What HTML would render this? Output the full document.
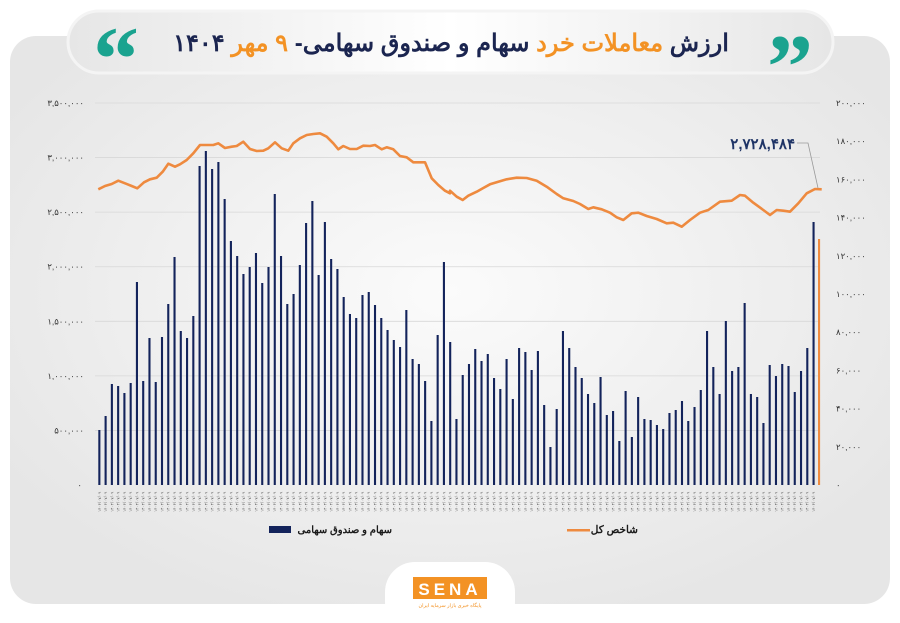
<!DOCTYPE html>
<html><head><meta charset="utf-8"><style>
html,body{margin:0;padding:0;background:#fff;}
body{width:900px;height:623px;overflow:hidden;font-family:"Liberation Sans","Noto Sans CJK SC",sans-serif;}
</style></head><body>
<svg id="s" width="900" height="623" xmlns="http://www.w3.org/2000/svg" style="position:absolute;left:0;top:0">
<defs>
<radialGradient id="bg" cx="50%" cy="45%" r="60%"><stop offset="0" stop-color="#fbfbfb"/><stop offset="1" stop-color="#e6e6e6"/></radialGradient>
<linearGradient id="tg" x1="0" x2="1"><stop offset="0" stop-color="#e6e6e6"/><stop offset=".5" stop-color="#ffffff"/><stop offset="1" stop-color="#e6e6e6"/></linearGradient>
</defs>
<rect x="10" y="36" width="880" height="568" rx="26" fill="url(#bg)"/>
<rect x="68" y="11" width="765" height="62" rx="31" fill="url(#tg)" stroke="#f4f4f4" stroke-width="3"/>
<text x="116" y="90" font-size="92" font-weight="bold" fill="#1aa38f" text-anchor="middle" font-family="Liberation Serif,serif">“</text>
<text x="790" y="98" font-size="92" font-weight="bold" fill="#1aa38f" text-anchor="middle" font-family="Liberation Serif,serif">”</text>
<text x="451" y="51" font-size="24" font-weight="bold" text-anchor="middle" direction="rtl" fill="#1b2550">ارزش <tspan fill="#f39224">معاملات خرد</tspan> سهام و صندوق سهامی- <tspan fill="#f39224">۹ مهر</tspan> ۱۴۰۴</text>
<g id="grid"></g>
<g id="bars"></g>
<g id="line"></g>
<text x="795" y="149" font-size="15" font-weight="bold" fill="#1f3466" text-anchor="end">۲,۷۲۸,۴۸۴</text>
<polyline points="797,143 808,143 818,188" fill="none" stroke="#999" stroke-width="0.8"/>
<rect x="269" y="526" width="22" height="7" fill="#13235b"/>
<text x="392" y="533" font-size="10" font-weight="bold" fill="#1b1b1b" text-anchor="start" direction="rtl">سهام و صندوق سهامی</text>
<rect x="567" y="529" width="23" height="2.5" fill="#ee8a3f"/>
<text x="638" y="533" font-size="10.5" font-weight="bold" fill="#1b1b1b" text-anchor="start" direction="rtl">شاخص کل</text>
<rect x="385" y="562" width="130" height="70" rx="30" fill="#fff"/>
<rect x="413" y="577" width="74" height="22" fill="#f39224"/>
<text x="450" y="595" font-size="17" font-weight="bold" fill="#fff" text-anchor="middle" letter-spacing="4">SENA</text>
<text x="450" y="607" font-size="5" fill="#f39224" text-anchor="middle">پایگاه خبری بازار سرمایه ایران</text>
</svg>
<script>
var NS="http://www.w3.org/2000/svg";
function el(p,t,a,txt){var e=document.createElementNS(NS,t);for(var k in a)e.setAttribute(k,a[k]);if(txt!=null)e.textContent=txt;p.appendChild(e);return e;}
var g=document.getElementById("grid");
var L=["۰","۵۰۰,۰۰۰","۱,۰۰۰,۰۰۰","۱,۵۰۰,۰۰۰","۲,۰۰۰,۰۰۰","۲,۵۰۰,۰۰۰","۳,۰۰۰,۰۰۰","۳,۵۰۰,۰۰۰"];
var R=["۰","۲۰,۰۰۰","۴۰,۰۰۰","۶۰,۰۰۰","۸۰,۰۰۰","۱۰۰,۰۰۰","۱۲۰,۰۰۰","۱۴۰,۰۰۰","۱۶۰,۰۰۰","۱۸۰,۰۰۰","۲۰۰,۰۰۰"];
for(var i=0;i<8;i++){var y=485-i*54.57;if(i>0)el(g,"line",{x1:95,x2:820,y1:y,y2:y,stroke:"#d8d8d8","stroke-width":0.8});el(g,"text",{x:i==0?82:84,y:y+3,"font-size":8.5,fill:"#333","text-anchor":"end"},L[i]);}
for(var i=0;i<11;i++){var y=485-i*38.2;el(g,"text",{x:836,y:y+3,"font-size":8.5,fill:"#333"},R[i]);}
var tops=[430,416,384,386,393,383,282,381,338,382,337,304,257,331,338,316,166,151,169,162,199,241,256,274,267,253,283,267,194,256,304,294,265,223,201,275,222,259,269,297,314,318,295,292,305,318,330,340,347,310,359,364,381,421,335,262,342,419,375,364,349,361,354,378,389,359,399,348,352,370,351,405,447,409,331,348,367,378,394,403,377,415,411,441,391,437,397,419,420,425,429,413,410,401,421,407,390,331,367,394,321,371,367,303,394,397,423,365,376,364,366,392,371,348,222];
var b=document.getElementById("bars");
for(var i=0;i<tops.length;i++){var x=99.3+i*6.265;el(b,"rect",{x:x-1,y:tops[i],width:2.1,height:485-tops[i],fill:"#13235b"});
el(b,"text",{x:0,y:0,"font-size":4.2,fill:"#666","transform":"translate("+(x+1.5)+",512) rotate(-90)"},"۱۴۰۴/۰۷/۰۹");}
el(b,"rect",{x:818,y:239,width:2.1,height:246,fill:"#ee8a3f"});
var p2=[[55,178],[75,168],[95,162],[115,152],[135,160],[155,168],[172,175],[192,157],[210,148],[230,143],[248,125],[265,101],[285,110],[300,103],[320,90],[340,70],[360,45],[380,45],[400,45],[415,40],[435,54],[455,50],[470,48],[490,35],[510,57],[530,63],[550,62],[565,55],[585,37],[605,55],[625,62],[640,40],[660,25],[680,15],[700,12],[720,10],[740,20],[760,40],[775,58],[790,48],[810,57],[830,57],[850,47],[870,48],[885,45],[905,58],[920,52],[940,58],[960,78],[980,82],[1000,97],[1035,97],[1055,145],[1075,165],[1095,182],[1110,190]];
var p3=[[0,182],[20,200],[38,210],[55,197],[80,185],[100,174],[120,163],[145,155],[170,148],[200,143],[230,144],[260,152],[290,170],[320,192],[340,205],[370,213],[390,222],[415,237],[430,232],[455,238],[480,248],[500,262],[520,270],[545,250],[565,248],[590,258],[620,267],[650,280],[670,278],[695,290],[720,270],[750,248],[775,240],[810,215],[845,212],[870,195],[885,197],[910,218],[940,240],[960,255],[980,240],[1000,242],[1020,245],[1045,220],[1070,190],[1095,177],[1115,178]];
var pts=[];p2.forEach(function(p){pts.push((80+p[0]/3).toFixed(1)+","+(130+p[1]/3).toFixed(1));});
p3.forEach(function(p){pts.push((450+p[0]/3).toFixed(1)+","+(130+p[1]/3).toFixed(1));});
el(document.getElementById("line"),"polyline",{points:pts.join(" "),fill:"none",stroke:"#ee8a3f","stroke-width":2.6,"stroke-linejoin":"round"});
</script>
</body></html>
